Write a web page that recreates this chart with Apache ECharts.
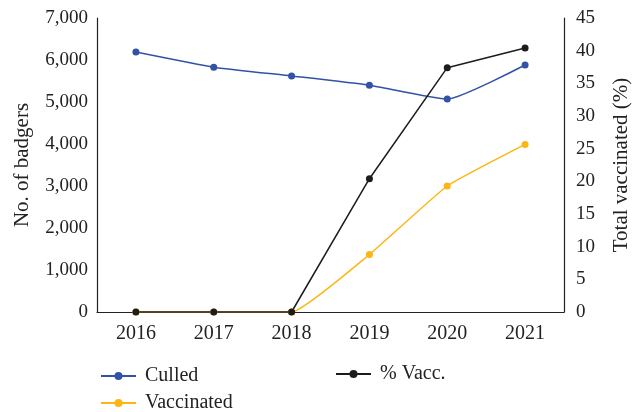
<!DOCTYPE html>
<html><head><meta charset="utf-8">
<script src="https://cdn.jsdelivr.net/npm/echarts@6/dist/echarts.min.js"></script>
<style>html,body{margin:0;padding:0;background:#fff}#c{width:640px;height:412px}</style>
</head><body><div id="c"></div>
<script>
const years = ['2016','2017','2018','2019','2020','2021'];
const culled = [6190, 5830, 5620, 5400, 5070, 5880];
const vaccinated = [0, 0, 0, 1370, 3000, 3990];
const pctVacc = [0, 0, 0, 20.4, 37.4, 40.4];

const font = 'Liberation Serif';
const lg = (name, left, top) => ({
  left: left, top: top, itemWidth: 35, itemHeight: 10, data: [name],
  textStyle: {fontFamily: font, fontSize: 20, color: '#222', padding: [0, 0, 0, 4]}
});
const chart = echarts.init(document.getElementById('c'));
chart.setOption({
  animation: false,
  textStyle: {fontFamily: font},
  grid: {left: 97, right: 74, top: 18, bottom: 100},
  legend: [lg('Culled', 95, 361), lg('Vaccinated', 95, 388), lg('% Vacc.', 330, 359)],
  xAxis: {
    type: 'category', data: years, boundaryGap: true,
    axisLine: {lineStyle: {color: '#222', width: 1.2}},
    axisTick: {show: false},
    axisLabel: {fontFamily: font, fontSize: 20, color: '#222', margin: 12}
  },
  yAxis: [
    {type: 'value', min: 0, max: 7000, interval: 1000,
     name: 'No. of badgers', nameLocation: 'middle', nameRotate: 90, nameGap: 64,
     nameTextStyle: {fontFamily: font, fontSize: 21, color: '#222'},
     axisLine: {show: true, lineStyle: {color: '#222', width: 1.2}},
     axisTick: {show: false}, splitLine: {show: false},
     axisLabel: {fontFamily: font, fontSize: 19, color: '#222', margin: 9,
       formatter: v => v.toLocaleString('en-US')}},
    {type: 'value', min: 0, max: 45, interval: 5, position: 'right',
     name: 'Total vaccinated (%)', nameLocation: 'middle', nameRotate: 90, nameGap: 47,
     nameTextStyle: {fontFamily: font, fontSize: 21, color: '#222'},
     axisLine: {show: true, lineStyle: {color: '#222', width: 1.2}},
     axisTick: {show: false}, splitLine: {show: false},
     axisLabel: {fontFamily: font, fontSize: 19, color: '#222', margin: 12}}
  ],
  series: [
    {name: 'Culled', type: 'line', data: culled, yAxisIndex: 0, smooth: 0.15,
     symbol: 'circle', symbolSize: 7, color: '#3252a8', lineStyle: {width: 1.5}},
    {name: 'Vaccinated', type: 'line', data: vaccinated, yAxisIndex: 0, smooth: 0.12,
     symbol: 'circle', symbolSize: 7, color: '#fbb614', lineStyle: {width: 1.5}},
    {name: '% Vacc.', type: 'line', data: pctVacc, yAxisIndex: 1, smooth: false,
     symbol: 'circle', symbolSize: 7, color: '#1c1c1c', lineStyle: {width: 1.5}}
  ]
});
</script></body></html>
